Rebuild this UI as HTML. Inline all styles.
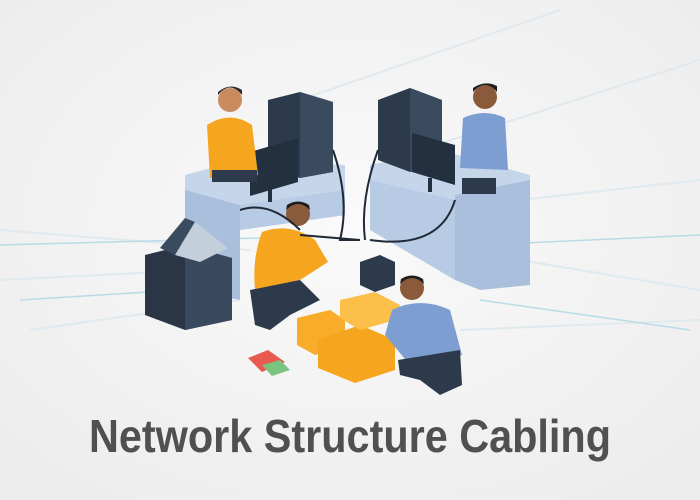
<!DOCTYPE html>
<html><head><meta charset="utf-8"><style>
html,body{margin:0;padding:0;width:700px;height:500px;overflow:hidden;background:#f4f4f4}
</style></head><body>
<svg width="700" height="500" viewBox="0 0 700 500" xmlns="http://www.w3.org/2000/svg">
<defs>
<radialGradient id="bg" cx="0.5" cy="0.45" r="0.7"><stop offset="0" stop-color="#fafafa"/><stop offset="1" stop-color="#ececec"/></radialGradient>
</defs>
<rect width="700" height="500" fill="url(#bg)"/>
<!-- faint lines -->
<g stroke="#dfe9ee" stroke-width="2" fill="none">
<path d="M300 100 L560 10"/><path d="M420 150 L700 60"/><path d="M520 200 L700 180"/><path d="M520 260 L700 290"/>
<path d="M0 230 L250 250"/><path d="M0 280 L200 270"/><path d="M30 330 L240 300"/><path d="M460 330 L700 320"/>
</g>
<g stroke="#b9dbe6" stroke-width="1.5" fill="none">
<path d="M0 245 L260 238"/><path d="M20 300 L180 290"/><path d="M480 300 L690 330"/><path d="M480 245 L700 235"/>
</g>
<!-- left desk -->
<polygon points="185,175 240,160 345,165 345,215 240,230 185,210" fill="#c6d6ea"/>
<polygon points="185,190 240,205 240,300 185,290" fill="#a9bfdc"/>
<polygon points="240,205 345,190 345,215 240,230" fill="#b7cbe4"/>
<!-- right desk -->
<polygon points="370,165 440,150 530,175 530,200 455,215 370,195" fill="#c6d6ea"/>
<polygon points="455,195 530,180 530,285 480,290 455,280" fill="#a9bfdc"/>
<polygon points="370,180 455,200 455,280 370,230" fill="#b7cbe4"/>
<!-- towers -->
<polygon points="268,100 300,92 333,102 333,172 300,178 268,168" fill="#2c3a4b"/>
<polygon points="300,92 333,102 333,172 300,178" fill="#3a4b60"/>
<polygon points="378,100 410,88 442,100 442,165 410,172 378,160" fill="#2c3a4b"/>
<polygon points="410,88 442,100 442,165 410,172" fill="#3a4b60"/>
<!-- monitors -->
<polygon points="250,152 298,138 298,182 250,196" fill="#22303f"/>
<rect x="268" y="188" width="4" height="14" fill="#22303f"/>
<polygon points="412,133 455,145 455,185 412,172" fill="#22303f"/>
<rect x="428" y="178" width="4" height="14" fill="#22303f"/>
<!-- left person -->
<circle cx="230" cy="100" r="12" fill="#c98a5e"/><path d="M218 95 Q230 80 242 95 L242 90 Q230 82 218 92Z" fill="#2b2b2b"/>
<path d="M207 125 Q230 110 252 125 L258 175 L210 178Z" fill="#f6a51f"/>
<rect x="212" y="170" width="45" height="12" fill="#2c3a4b"/>
<!-- right person -->
<circle cx="485" cy="97" r="12" fill="#8a5a3a"/><path d="M473 92 Q485 78 497 92 L497 86 Q485 80 473 88Z" fill="#1e1e1e"/>
<path d="M463 118 Q485 108 505 118 L508 170 L460 168Z" fill="#7d9ed0"/>
<rect x="462" y="178" width="34" height="16" fill="#2c3a4b"/>
<!-- server cabinet -->
<polygon points="145,255 185,245 232,258 232,320 185,330 145,315" fill="#2a3646"/>
<polygon points="185,245 232,258 232,320 185,330" fill="#394a5e"/>
<polygon points="160,248 185,218 195,222 175,255" fill="#3a4b60"/>
<polygon points="175,255 195,222 228,248 200,262" fill="#c4cfdc"/>
<!-- kneeling orange person -->
<circle cx="298" cy="214" r="12" fill="#8a5a3a"/><path d="M286 210 Q298 198 310 210 L309 205 Q298 198 287 205Z" fill="#1e1e1e"/>
<path d="M262 232 Q290 222 315 240 L328 262 L300 280 L255 290 Q252 258 262 232Z" fill="#f6a51f"/>
<path d="M250 290 L300 280 L320 300 L290 315 L270 330 L255 325Z" fill="#2c3a4b"/>
<!-- equipment box -->
<polygon points="360,262 380,255 395,262 395,285 375,292 360,285" fill="#2c3a4b"/>
<!-- boxes -->
<polygon points="297,318 330,310 345,320 345,345 315,355 297,345" fill="#f8ac2a"/>
<polygon points="318,340 360,325 395,340 395,370 355,383 318,368" fill="#f6a51f"/>
<polygon points="340,300 375,292 400,305 395,320 360,330 340,318" fill="#fbbf4a"/>
<!-- kneeling blue person -->
<circle cx="412" cy="288" r="12" fill="#8a5a3a"/><path d="M400 284 Q412 272 424 284 L423 279 Q412 272 401 279Z" fill="#1e1e1e"/>
<path d="M392 310 Q420 296 450 310 L462 355 L410 365 L385 335Z" fill="#7d9ed0"/>
<path d="M398 360 L460 350 L462 385 L440 395 L420 380 L400 375Z" fill="#2c3a4b"/>
<!-- floor papers -->
<polygon points="248,358 268,350 285,362 262,372" fill="#e85a4f"/>
<polygon points="262,365 280,360 290,370 272,376" fill="#7bc47f"/>
<!-- cables -->
<g stroke="#1f2a36" stroke-width="2" fill="none">
<path d="M333 150 Q350 200 340 240 L360 240"/><path d="M378 150 Q360 200 365 240"/>
<path d="M300 235 L360 240"/><path d="M455 200 Q440 250 370 240"/><path d="M240 210 Q270 200 300 230"/>
</g>
<text x="350" y="452" text-anchor="middle" font-family="'Liberation Sans',sans-serif" font-weight="bold" font-size="46" fill="#505050" textLength="522" lengthAdjust="spacingAndGlyphs">Network Structure Cabling</text>
</svg>
</body></html>
